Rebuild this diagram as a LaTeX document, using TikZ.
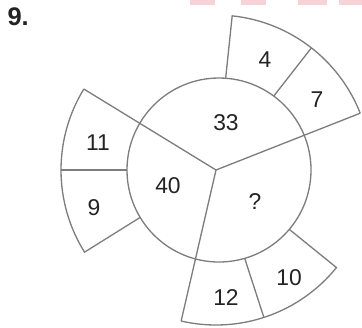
\documentclass[tikz,border=0pt]{standalone}
\usepackage{fontspec}
\setmainfont{Liberation Sans}
\usepackage{xcolor}
\usepackage{tikz}
\definecolor{lijn}{RGB}{125,125,125}
\definecolor{tekst}{RGB}{35,35,35}
\definecolor{roze}{RGB}{247,210,214}

\begin{document}
\begin{tikzpicture}[scale=0.02, line width=0.75pt, every node/.style={font=\fontsize{13}{15}\selectfont, text=tekst}]
            \useasboundingbox (-216,-157) rectangle (146,170);
            \coordinate (mid) at (0,0);
            % roze vlekjes bovenaan
            \foreach \a/\b in {-26/-1, 25/50, 82/111, 123/146}
            \fill[roze] (\a,165) rectangle (\b,170);
            % buitenste vakken
            \foreach \s/\m/\e in {21.5/52/84, 148.5/180/212, 257/288/321}
            {
            \draw[lijn] (\s:155) arc[start angle=\s, end angle=\e, radius=155] -- (\e:80);
            \draw[lijn] (\m:80) -- (\m:155);
            }
            % cirkel
            \draw[lijn, fill=white] (3,0) circle (92);
            % spaken
            \foreach \s in {21.5, 148.5, 257}
            \draw[lijn] (mid) -- (\s:155);
            % getallen
            \foreach \x/\y/\t/\n in {10/47/33/vA, -48/-16/40/vB, 39/-32/?/vC,
                49/110/4/vA1, 101/70/7/vA2, -118/27/11/vB1, -122/-38/9/vB2,
                10/-128/12/vC1, 73/-108/10/vC2}
            \node (\n) at (\x,\y) {\t};
            % opgavenummer
            \node[anchor=west, font=\fontsize{14.5}{16}\selectfont\bfseries] (nr) at (-215,153) {9.};
        \end{tikzpicture}
\end{document}
